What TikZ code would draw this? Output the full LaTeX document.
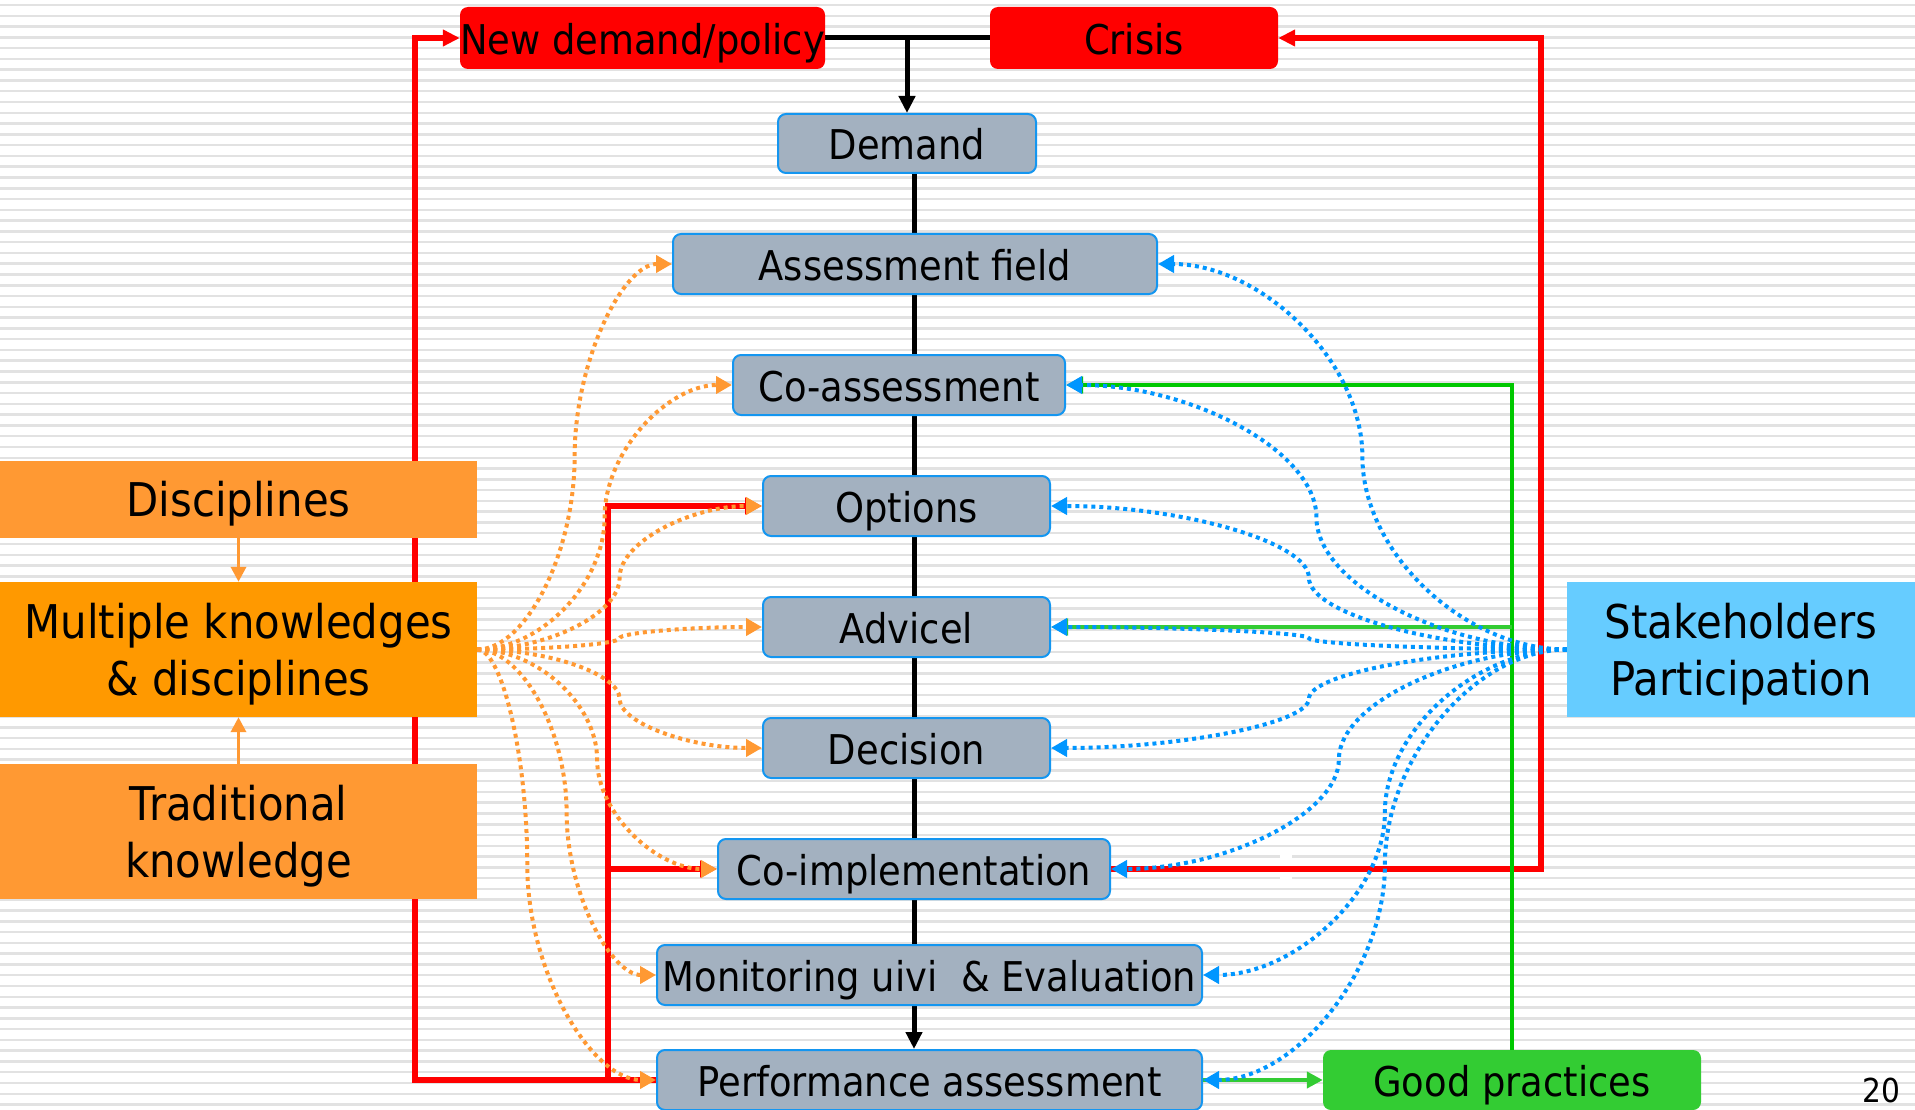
\documentclass[tikz,border=0pt]{standalone}
\usepackage{fontspec}
\setmainfont{DejaVu Sans}[FakeStretch=0.9]
\usetikzlibrary{arrows.meta,calc}

\definecolor{boxgray}{RGB}{163,177,192}
\definecolor{boxline}{RGB}{20,150,240}
\definecolor{hotred}{RGB}{255,0,0}
\definecolor{orangeA}{RGB}{255,153,51}
\definecolor{orangeB}{RGB}{255,153,0}
\definecolor{skyblue}{RGB}{102,204,255}
\definecolor{leafgreen}{RGB}{51,204,51}
\definecolor{darkgreen}{RGB}{0,200,0}
\definecolor{dotblue}{RGB}{0,150,255}
\definecolor{stripe}{RGB}{226,226,226}

\pgfdeclarelayer{paper}
\pgfdeclarelayer{wires}
\pgfsetlayers{paper,wires,main}

\tikzset{
  % curved connector: horizontal at both ends, vertical at the bend
  scurve/.style={to path={
    let \p1=(\tikztostart), \p2=(\tikztotarget), \n1={\x1+#1*(\x2-\x1)} in
    .. controls ({(\x1+\n1*1pt)/2},\y1) and ({\n1*1pt},{(3*\y1+\y2)/4})
    .. ({\n1*1pt},{(\y1+\y2)/2})
    .. controls ({\n1*1pt},{(\y1+3*\y2)/4}) and ({(\n1*1pt+\x2)/2},\y2)
    .. (\tikztotarget)}},
  scurve/.default=0.5
}

\begin{document}
\begin{tikzpicture}[x=1pt,y=-1pt,
  >={Triangle[length=17pt,width=16pt]},
  stage/.style={draw=boxline, line width=2pt, fill=boxgray, rounded corners=8pt,
    inner sep=0pt, minimum height=60pt, text height=33pt, text depth=0pt,
    font=\fontsize{41}{49}\selectfont},
  alarm/.style={fill=hotred, rounded corners=8pt, inner sep=0pt, minimum height=62pt,
    text height=33pt, text depth=0pt, font=\fontsize{41}{49}\selectfont},
  side/.style={inner sep=0pt, minimum width=477pt, text height=33pt, text depth=0pt,
    font=\fontsize{46.5}{57.5}\selectfont},
  sidetwo/.style={inner sep=0pt, minimum width=477pt, minimum height=135pt,
    align=center, text depth=0pt, font=\fontsize{46.5}{57.5}\selectfont},
  blk/.style={draw=black, line width=5pt},
  redw/.style={draw=hotred, line width=5.5pt},
  greenw/.style={draw=darkgreen, line width=4.5pt},
  greenl/.style={draw=leafgreen, line width=4.5pt},
  orw/.style={draw=orangeA, line width=3.5pt, -{Triangle[length=15pt,width=15pt]}},
  odot/.style={draw=orangeA, line width=4pt, dash pattern=on 4pt off 4pt,
    -{Triangle[length=16pt,width=17pt]}},
  bdot/.style={draw=dotblue, line width=4pt, dash pattern=on 4pt off 4pt,
    -{Triangle[length=16pt,width=17pt]}}
]
\useasboundingbox (0,0) rectangle (1915,1110);

% striped paper
\begin{pgfonlayer}{paper}
  \fill[white] (0,0) rectangle (1915,1110);
  \foreach \i in {0,...,102}
    \draw[stripe, line width=2.5pt] (0,{5+10.78*\i}) -- (1915,{5+10.78*\i});
\end{pgfonlayer}

% top triggers
\node[alarm, minimum width=365pt] (nd) at (642.5,38) {New demand/policy};
\node[alarm, minimum width=288pt] (cr) at (1134,38) {Crisis};

% process chain
\node[stage, minimum width=258pt, minimum height=59pt] (dem) at (907,143.5) {Demand};
\node[stage, minimum width=484pt] (af) at (915,264) {Assessment field};
\node[stage, minimum width=332pt] (coa) at (899,385) {Co-assessment};
\node[stage, minimum width=287pt] (opt) at (906.5,506) {Options};
\node[stage, minimum width=287pt] (adv) at (906.5,627) {Advicel};
\node[stage, minimum width=287pt] (dec) at (906.5,748) {Decision};
\node[stage, minimum width=392pt] (coi) at (914,869) {Co-implementation};
\node[stage, minimum width=545pt] (mon) at (929.5,975) {Monitoring uivi\ \ \& Evaluation};
\node[stage, minimum width=545pt] (perf) at (929.5,1080) {Performance assessment};

% knowledge sources
\node[side, fill=orangeA, minimum height=77pt] (dis) at (238.5,499.5) {Disciplines};
\node[sidetwo, fill=orangeB] (mk) at (238.5,649.5) {Multiple knowledges\\\& disciplines};
\node[sidetwo, fill=orangeA] (tk) at (238.5,831.5) {Traditional\\knowledge};

% participation and outcome
\node[sidetwo, fill=skyblue, minimum width=348pt] (sh) at (1741,649.5) {Stakeholders\\Participation};
\node[alarm, fill=leafgreen, minimum width=378pt, minimum height=60pt] (gp) at (1512,1080) {Good practices};

% page number
\node[inner sep=0pt, font=\fontsize{33}{40}\selectfont] (pg) at (1881,1090) {20};

\begin{pgfonlayer}{wires}
  \fill[white] (1280,853) rectangle (1292,880);

  % main flow
  \draw[blk] (nd.east) -- (cr.west);
  \draw[blk,->] (dem.north |- nd.east) -- (dem.north);
  \coordinate (spine) at (914,0);
  \draw[blk,->] (spine |- dem.south) -- (spine |- perf.north);

  % feedback loops
  \coordinate (rl) at (415,38);
  \draw[redw,->] (perf.west) -| (rl) -- (nd.west);
  \coordinate (rm) at (608,506);
  \draw[redw,->] (rm |- perf.west) -- (rm) -- (opt.west);
  \draw[redw,->] (rm |- coi.west) -- (coi.west);
  \coordinate (rr) at (1541,38);
  \draw[redw,->] (coi.east) -| (rr) -- (cr.east);

  % good practices
  \draw[greenw,->] (gp.north) |- (coa.east);
  \draw[greenl,->] (gp.north |- adv.east) -- (adv.east);
  \draw[greenl,-{Triangle[length=16pt,width=16pt]}] (perf.east) -- (gp.west);

  % knowledge inputs
  \draw[orw] (dis.south) -- (mk.north);
  \draw[orw] (tk.north) -- (mk.south);
  \foreach \t in {af,coa,opt,adv,dec,coi,mon}
    \draw[odot] (mk.east) to[scurve] (\t.west);
  \draw[odot] (mk.east) to[scurve=0.28] (perf.west);

  % participation
  \foreach \t in {af,coa,opt,adv,dec,coi,mon,perf}
    \draw[bdot] (sh.west) to[scurve] (\t.east);
\end{pgfonlayer}
\end{tikzpicture}
\end{document}
